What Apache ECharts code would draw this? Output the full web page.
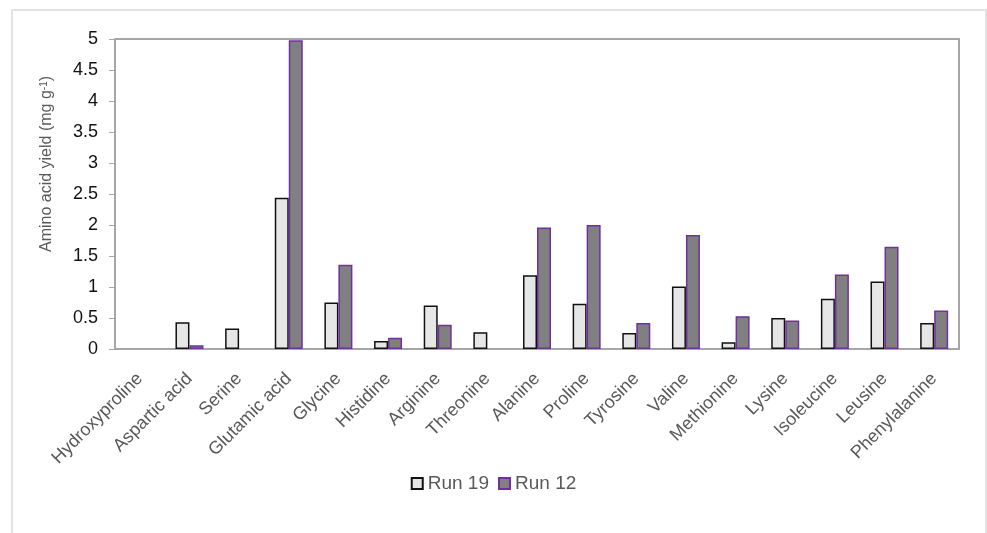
<!DOCTYPE html>
<html>
<head>
<meta charset="utf-8">
<script src="https://cdn.jsdelivr.net/npm/echarts@6/dist/echarts.min.js"></script>
<style>
  html, body { margin: 0; padding: 0; background: #fff; }
  #chart { width: 987px; height: 533px; }
</style>
</head>
<body>
<div id="chart"></div>
<script>
// 氨基酸名称（横轴类目）
const aminoAcids = ['Hydroxyproline', 'Aspartic acid', 'Serine', 'Glutamic acid', 'Glycine',
    'Histidine', 'Arginine', 'Threonine', 'Alanine', 'Proline', 'Tyrosine', 'Valine',
    'Methionine', 'Lysine', 'Isoleucine', 'Leusine', 'Phenylalanine'];
// 两组实验的产率 (mg g-1)，null 表示未检出
const run19 = [null, 0.43, 0.33, 2.44, 0.75, 0.13, 0.70, 0.27, 1.19, 0.73, 0.26, 1.01, 0.11, 0.50, 0.81, 1.09, 0.42];
const run12 = [null, 0.06, null, 4.98, 1.36, 0.18, 0.39, null, 1.96, 2.00, 0.42, 1.84, 0.53, 0.46, 1.20, 1.65, 0.62];
const seriesNames = ['Run 19', 'Run 12'];

const font = 'Liberation Sans, Arial, sans-serif';
var myChart = echarts.init(document.getElementById('chart'));
myChart.setOption({
    animation: false,
    // 外框
    graphic: [{
        type: 'rect',
        shape: { x: 12, y: 10, width: 974, height: 600 },
        style: { fill: 'none', stroke: '#e3e3e3', lineWidth: 2 },
        silent: true
    }],
    grid: {
        left: 115, right: 28, top: 39, bottom: 184,
        show: true,
        borderColor: '#a6a6a6',
        borderWidth: 2
    },
    legend: {
        data: seriesNames,
        left: 'center',
        top: 469,
        icon: 'rect',
        itemWidth: 11,
        itemHeight: 11,
        itemGap: 9,
        itemTextGap: 4,
        textStyle: { color: '#595959', fontSize: 19, fontFamily: font }
    },
    xAxis: {
        type: 'category',
        data: aminoAcids,
        axisLine: { lineStyle: { color: '#a6a6a6', width: 2 } },
        axisTick: { show: false },
        axisLabel: {
            rotate: 45,
            interval: 0,
            margin: 27,
            color: '#595959',
            fontSize: 18,
            fontFamily: font
        }
    },
    yAxis: {
        type: 'value',
        min: 0,
        max: 5,
        interval: 0.5,
        name: 'Amino acid yield (mg g{sup|-1})',
        nameLocation: 'middle',
        nameGap: 60,
        nameTextStyle: {
            color: '#595959',
            fontSize: 16,
            fontFamily: font,
            padding: [0, 0, 0, 60],
            rich: {
                sup: { fontSize: 10, verticalAlign: 'top', color: '#595959', fontFamily: font, padding: [0, 0, 6, 0] }
            }
        },
        axisLine: { show: true, lineStyle: { color: '#a6a6a6', width: 2 } },
        axisTick: { show: true, length: 6, lineStyle: { color: '#a6a6a6', width: 1 } },
        splitLine: { show: false },
        axisLabel: {
            margin: 17,
            color: '#111',
            fontSize: 18,
            fontFamily: font
        }
    },
    series: [{
        name: seriesNames[0],
        type: 'bar',
        data: run19,
        barWidth: 14,
        barGap: '0%',
        itemStyle: { color: '#e6e6e6', borderColor: '#111', borderWidth: 1.5 }
    }, {
        name: seriesNames[1],
        type: 'bar',
        data: run12,
        barWidth: 14,
        itemStyle: { color: '#808080', borderColor: '#7030a0', borderWidth: 1.5 }
    }]
});
</script>
</body>
</html>
